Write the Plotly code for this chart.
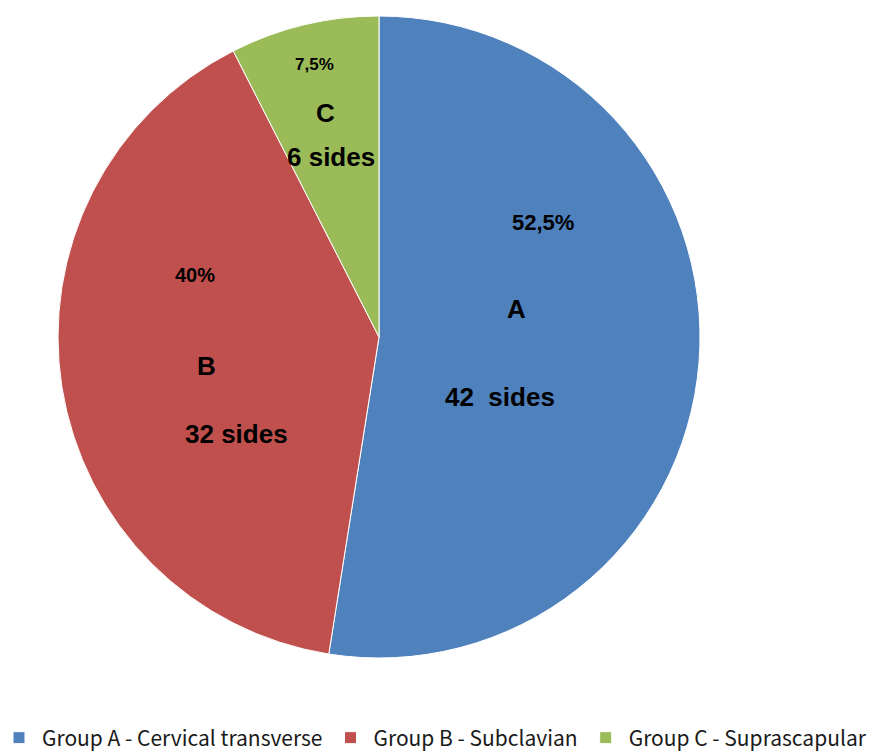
import plotly.graph_objects as go

groups = ["Group A - Cervical transverse", "Group B - Subclavian", "Group C - Suprascapular"]
sides = [42, 32, 6]
colors = ["#4F81BD", "#C0504D", "#9BBB59"]
letters = ["A", "B", "C"]
pct_labels = ["52,5%", "40%", "7,5%"]
side_labels = ["42  sides", "32 sides", "6 sides"]

W, H = 877, 751
MB = 30              # bottom margin holding the legend
HP = H - MB          # plot-area height

def py(ypix):
    return (HP - ypix) / HP

fig = go.Figure(go.Pie(
    labels=groups,
    values=sides,
    marker=dict(colors=colors, line=dict(color="white", width=1)),
    sort=False,
    direction="clockwise",
    rotation=0,
    textinfo="none",
    hoverinfo="label+value+percent",
    domain=dict(x=[58 / W, 700 / W], y=[py(658), py(16)]),
))

# label positions (pixel, measured from top-left)
pct_pos = [(543, 223, 22), (195, 275, 20), (314, 65, 17)]
let_pos = [(516, 309), (206, 366), (325, 113)]
side_pos = [(500, 397), (237, 434), (331, 157)]

ann = []
for i in range(3):
    x, y, s = pct_pos[i]
    ann.append(dict(x=x / W, y=py(y), text=pct_labels[i], font=dict(size=s)))
    x, y = let_pos[i]
    ann.append(dict(x=x / W, y=py(y), text=letters[i], font=dict(size=26)))
    x, y = side_pos[i]
    ann.append(dict(x=x / W, y=py(y), text=side_labels[i], font=dict(size=26)))
for a in ann:
    a.update(xref="paper", yref="paper", showarrow=False, xanchor="center", yanchor="middle")
    a["font"].update(family="Liberation Sans, Arial, sans-serif", color="black", weight="bold")

fig.update_layout(
    width=W, height=H,
    margin=dict(l=0, r=0, t=0, b=MB, autoexpand=False),
    paper_bgcolor="white",
    plot_bgcolor="white",
    annotations=ann,
    showlegend=True,
    legend=dict(
        orientation="h",
        itemwidth=36,
        x=-4 / W, xanchor="left",
        y=py(738), yanchor="middle",
        font=dict(family="Noto Sans CJK KR, Noto Sans, sans-serif", size=21, color="#1a1a1a"),
        bgcolor="rgba(0,0,0,0)",
    ),
)

fig.write_html("out.html")
